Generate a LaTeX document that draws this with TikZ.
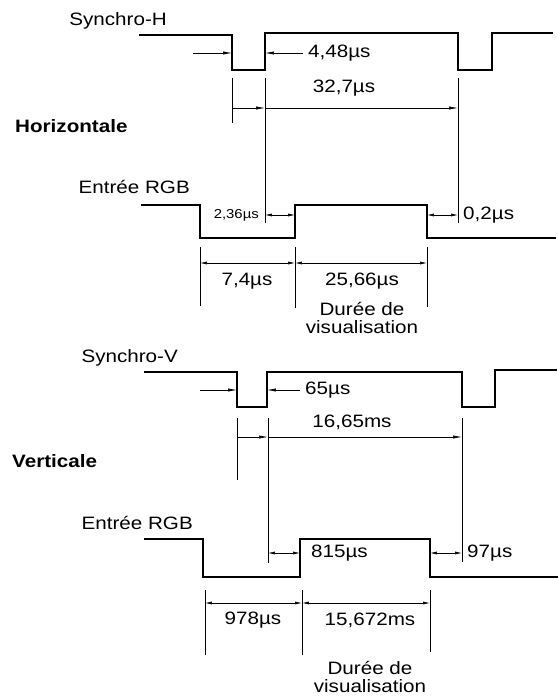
\documentclass[tikz,border=0pt]{standalone}
\usepackage{fontspec}
\setmainfont{Liberation Sans}[FakeStretch=1.15]
\usepackage{tikz}
\usetikzlibrary{arrows.meta, positioning, calc}
\newcommand{\lbltxt}{\fontsize{18}{19}\selectfont}
\newcommand{\smalltxt}{\fontsize{13}{15}\selectfont}

\begin{document}
\begin{tikzpicture}[x=1bp, y=-1bp, font=\lbltxt,
  sig/.style={line width=2.6pt, line join=miter, line cap=rect},
  dim/.style={line width=0.6pt},
  cote/.style={dim, -{Latex[length=9pt, width=3.2pt]}},
  cotes/.style={dim, {Latex[length=7pt, width=3pt]}-{Latex[length=7pt, width=3pt]}},
  lbl/.style={inner sep=0pt}]
  \useasboundingbox (0,0) rectangle (558,700);

  % --- Horizontale ---
  \node[lbl, anchor=base east] (synh) at (167,26) {Synchro-H};
  \node[lbl, anchor=base west, font=\lbltxt\bfseries] (horiz) at (15,133) {Horizontale};
  \node[lbl, anchor=base east] (rgbh) at (190,193) {Entrée RGB};
  \draw[sig] (140,35) -| (232,70) -| (265,33) -| (458,70) -| (492,33) -- (552,33);
  \draw[sig] (142,205) -| (200,238) -| (295,205) -| (427,238) -- (555,238);

  \coordinate (ha1) at (232,78); \coordinate (ha2) at (232,123);
  \coordinate (hb1) at (265,78); \coordinate (hb2) at (265,223);
  \coordinate (hc1) at (458,78); \coordinate (hc2) at (458,223);
  \draw[dim] (ha1) -- (ha2);
  \draw[dim] (hb1) -- (hb2);
  \draw[dim] (hc1) -- (hc2);

  \coordinate (hl0) at (193,53); \coordinate (hl1) at (232,53);
  \coordinate (hr0) at (303,53); \coordinate (hr1) at (265,53);
  \draw[cote] (hl0) -- (hl1);
  \draw[cote] (hr0) -- (hr1);
  \node[lbl, anchor=west] (t448) at (308,53) {4,48µs};

  \coordinate (hp0) at (232,108); \coordinate (hp1) at (265,108); \coordinate (hp2) at (458,108);
  \draw[cote] (hp0) -- (hp1);
  \draw[cote] (hp1) -- (hp2);
  \node[lbl] (t327) at (344,88) {32,7µs};

  \coordinate (hs0) at (265,215); \coordinate (hs1) at (295,215);
  \coordinate (hs2) at (427,215); \coordinate (hs3) at (458,215);
  \draw[cotes] (hs0) -- (hs1);
  \draw[cotes] (hs2) -- (hs3);
  \node[lbl, anchor=east, font=\smalltxt] (t236) at (259,215) {2,36µs};
  \node[lbl, anchor=west] (t02) at (463,215) {0,2µs};

  \coordinate (hd1) at (200,247); \coordinate (hd2) at (200,306);
  \coordinate (he1) at (295,247); \coordinate (he2) at (295,308);
  \coordinate (hf1) at (427,247); \coordinate (hf2) at (427,307);
  \draw[dim] (hd1) -- (hd2);
  \draw[dim] (he1) -- (he2);
  \draw[dim] (hf1) -- (hf2);
  \coordinate (hv0) at (200,263); \coordinate (hv1) at (295,263); \coordinate (hv2) at (427,263);
  \draw[cotes] (hv0) -- (hv1);
  \draw[cotes] (hv1) -- (hv2);
  \node[lbl] (t74) at (247,281) {7,4µs};
  \node[lbl] (t2566) at (362,281) {25,66µs};
  \node[lbl, align=center] (visuh) at (362,318) {Durée de\\visualisation};

  % --- Verticale ---
  \node[lbl, anchor=base east] (synv) at (178,362) {Synchro-V};
  \node[lbl, anchor=base west, font=\lbltxt\bfseries] (vert) at (12,467) {Verticale};
  \node[lbl, anchor=base east] (rgbv) at (193,529) {Entrée RGB};
  \draw[sig] (145,372) -| (237,407) -| (267,372) -| (462,407) -| (495,370) -- (556,370);
  \draw[sig] (145,539) -| (203,577) -| (300,539) -| (430,577) -- (558,577);

  \coordinate (va1) at (237,418); \coordinate (va2) at (237,480);
  \coordinate (vb1) at (268,418); \coordinate (vb2) at (268,563);
  \coordinate (vc1) at (462,418); \coordinate (vc2) at (462,562);
  \draw[dim] (va1) -- (va2);
  \draw[dim] (vb1) -- (vb2);
  \draw[dim] (vc1) -- (vc2);

  \coordinate (vl0) at (200,390); \coordinate (vl1) at (237,390);
  \coordinate (vr0) at (300,390); \coordinate (vr1) at (267,390);
  \draw[cote] (vl0) -- (vl1);
  \draw[cote] (vr0) -- (vr1);
  \node[lbl, anchor=west] (t65) at (305,390) {65µs};

  \coordinate (vp0) at (237,437); \coordinate (vp1) at (268,437); \coordinate (vp2) at (462,437);
  \draw[cote] (vp0) -- (vp1);
  \draw[cote] (vp1) -- (vp2);
  \node[lbl] (t1665) at (352,422) {16,65ms};

  \coordinate (vs0) at (268,553); \coordinate (vs1) at (300,553);
  \coordinate (vs2) at (430,553); \coordinate (vs3) at (462,553);
  \draw[cotes] (vs0) -- (vs1);
  \draw[cotes] (vs2) -- (vs3);
  \node[lbl, anchor=west] (t815) at (311,553) {815µs};
  \node[lbl, anchor=west] (t97) at (467,553) {97µs};

  \coordinate (vd1) at (205,590); \coordinate (vd2) at (205,655);
  \coordinate (ve1) at (302,590); \coordinate (ve2) at (302,655);
  \coordinate (vf1) at (430,590); \coordinate (vf2) at (430,652);
  \draw[dim] (vd1) -- (vd2);
  \draw[dim] (ve1) -- (ve2);
  \draw[dim] (vf1) -- (vf2);
  \coordinate (vv0) at (205,603); \coordinate (vv1) at (302,603); \coordinate (vv2) at (430,603);
  \draw[cotes] (vv0) -- (vv1);
  \draw[cotes] (vv1) -- (vv2);
  \node[lbl] (t978) at (253,620) {978µs};
  \node[lbl] (t15672) at (370,620) {15,672ms};
  \node[lbl, align=center] (visuv) at (370,677) {Durée de\\visualisation};
\end{tikzpicture}
\end{document}
